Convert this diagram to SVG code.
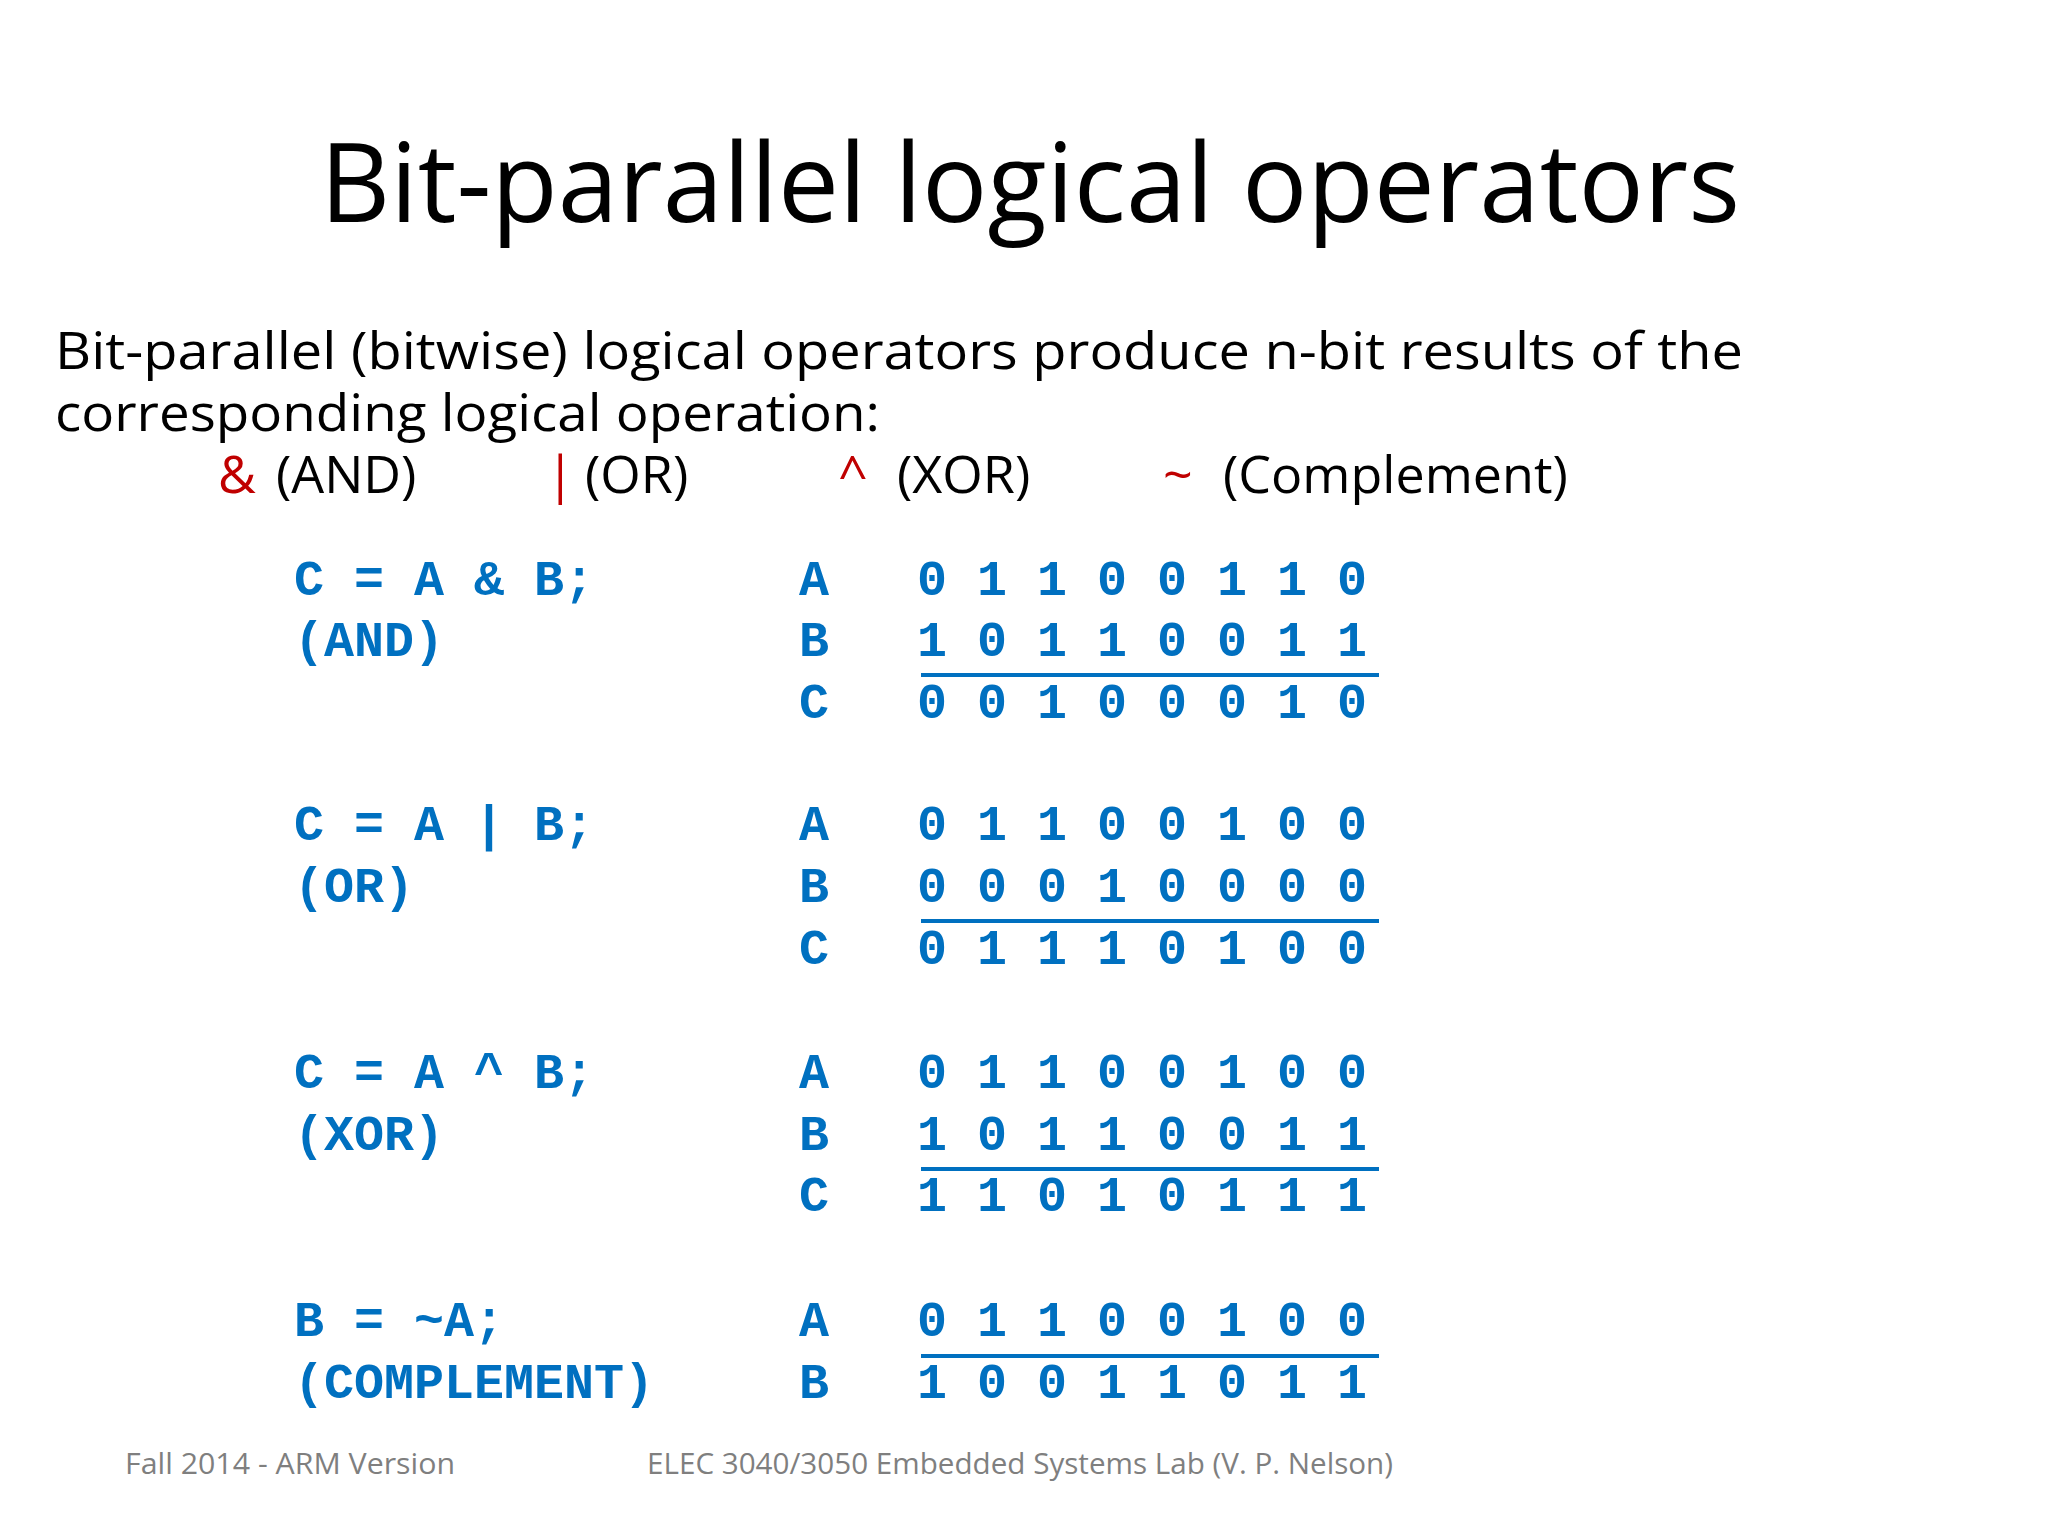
<svg xmlns="http://www.w3.org/2000/svg" width="2048" height="1536" viewBox="0 0 2048 1536">
<style>
.t{font-family:"Open Sans","Liberation Sans",sans-serif;fill:#000}
.r{fill:#C00000}
.c{font-family:"Liberation Mono",monospace;font-weight:bold;font-size:50px;fill:#0070C0}
.f{font-family:"Open Sans","Liberation Sans",sans-serif;font-size:29px;fill:#7f7f7f}
.u{stroke:#0070C0;stroke-width:4}
</style>
<rect width="2048" height="1536" fill="#fff"/>
<text class="t" x="1030" y="222" font-size="110" text-anchor="middle" textLength="1420" lengthAdjust="spacingAndGlyphs">Bit-parallel logical operators</text>
<text class="t" x="55" y="369" font-size="52" textLength="1688" lengthAdjust="spacingAndGlyphs">Bit-parallel (bitwise) logical operators produce n-bit results of the</text>
<text class="t" x="55" y="431" font-size="52" textLength="825" lengthAdjust="spacingAndGlyphs">corresponding logical operation:</text>
<g class="t" font-size="52">
<text x="218" y="493" class="r">&amp;</text><text x="276" y="493">(AND)</text>
<text x="546" y="493" class="r">|</text><text x="585" y="493">(OR)</text>
<text x="838" y="493" class="r">^</text><text x="897" y="493">(XOR)</text>
<text x="1163" y="493" class="r">~</text><text x="1223" y="493">(Complement)</text>
</g>
<g xml:space="preserve">
<text class="c" x="294" y="595">C = A &amp; B;</text><text class="c" x="294" y="656">(AND)</text>
<text class="c" x="799" y="595">A</text><text class="c" x="799" y="656">B</text><text class="c" x="799" y="718">C</text>
<text class="c" x="917" y="595">0 1 1 0 0 1 1 0</text>
<text class="c" x="917" y="656">1 0 1 1 0 0 1 1</text>
<text class="c" x="917" y="718">0 0 1 0 0 0 1 0</text>
<line class="u" x1="921" y1="675" x2="1379" y2="675"/>

<text class="c" x="294" y="840">C = A | B;</text><text class="c" x="294" y="902">(OR)</text>
<text class="c" x="799" y="840">A</text><text class="c" x="799" y="902">B</text><text class="c" x="799" y="964">C</text>
<text class="c" x="917" y="840">0 1 1 0 0 1 0 0</text>
<text class="c" x="917" y="902">0 0 0 1 0 0 0 0</text>
<text class="c" x="917" y="964">0 1 1 1 0 1 0 0</text>
<line class="u" x1="921" y1="921" x2="1379" y2="921"/>

<text class="c" x="294" y="1088">C = A ^ B;</text><text class="c" x="294" y="1150">(XOR)</text>
<text class="c" x="799" y="1088">A</text><text class="c" x="799" y="1150">B</text><text class="c" x="799" y="1211">C</text>
<text class="c" x="917" y="1088">0 1 1 0 0 1 0 0</text>
<text class="c" x="917" y="1150">1 0 1 1 0 0 1 1</text>
<text class="c" x="917" y="1211">1 1 0 1 0 1 1 1</text>
<line class="u" x1="921" y1="1169" x2="1379" y2="1169"/>

<text class="c" x="294" y="1336">B = ~A;</text><text class="c" x="294" y="1398">(COMPLEMENT)</text>
<text class="c" x="799" y="1336">A</text><text class="c" x="799" y="1398">B</text>
<text class="c" x="917" y="1336">0 1 1 0 0 1 0 0</text>
<text class="c" x="917" y="1398">1 0 0 1 1 0 1 1</text>
<line class="u" x1="921" y1="1356" x2="1379" y2="1356"/>
</g>
<text class="f" x="125" y="1474" textLength="330" lengthAdjust="spacingAndGlyphs">Fall 2014 - ARM Version</text>
<text class="f" x="647" y="1474" textLength="746" lengthAdjust="spacingAndGlyphs">ELEC 3040/3050 Embedded Systems Lab (V. P. Nelson)</text>
</svg>
